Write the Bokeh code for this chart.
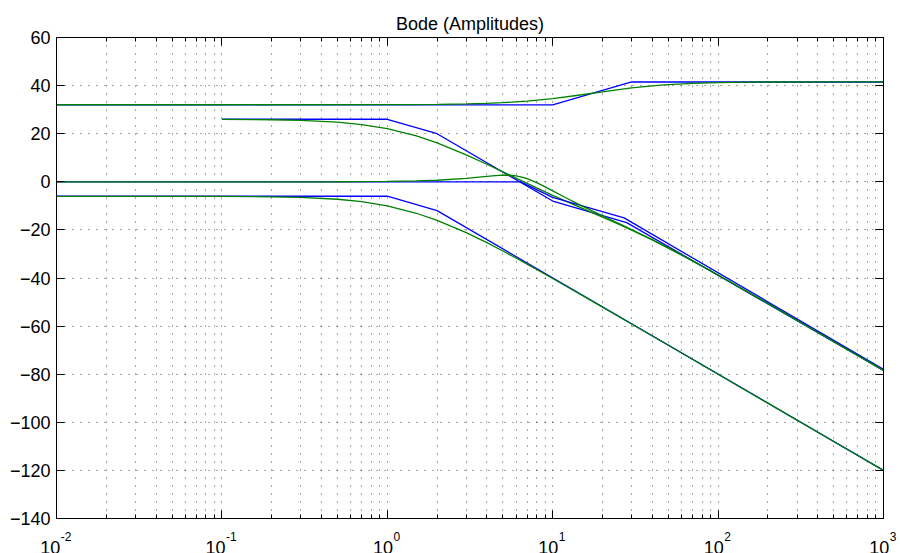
from bokeh.plotting import figure
from bokeh.layouts import column
from bokeh.models import (FixedTicker, LogAxis, LinearAxis, CustomJSTickFormatter,
                          Range1d)
from bokeh.core.properties import value
from bokeh.embed import file_html
from bokeh.resources import INLINE

# ---- tick values / labels ----
x_ticks = [0.01, 0.1, 1, 10, 100, 1000]
x_tick_base = ["10", "10", "10", "10", "10", "10"]
x_tick_exp = ["-2", "-1", "0", "1", "2", "3"]
x_minor = [m * d for d in [0.01, 0.1, 1, 10, 100] for m in range(2, 10)]
y_ticks = [-140, -120, -100, -80, -60, -40, -20, 0, 20, 40, 60]

# ---- curve A (gain 32 dB, zero 10, pole 30) ----
a_asym_w = [0.01, 10, 30, 1000]
a_asym_db = [32.0, 32.0, 41.5, 41.5]
a_w = [0.01, 0.1, 1, 2, 3, 4, 5, 7, 10, 15, 20, 30, 40, 50, 70, 100, 150, 200, 500, 1000]
a_db = [32.04, 32.04, 32.08, 32.19, 32.37, 32.61, 32.89, 33.54, 34.59, 36.19, 37.43,
        39.03, 39.90, 40.42, 40.94, 41.25, 41.43, 41.50, 41.57, 41.58]

# ---- curve B (26 dB from 0.1) ----
b_asym_w = [0.1, 1, 2, 10, 28, 1000]
b_asym_db = [26.0, 26.0, 20.0, -8.0, -17.0, -78.4]
b_w = [0.1, 0.2, 0.3, 0.5, 0.7, 1, 1.5, 2, 3, 4, 5, 6, 7, 8, 10, 12, 15, 20, 25, 30,
       40, 50, 70, 100, 200, 500, 1000]
b_db = [25.97, 25.81, 25.55, 24.80, 23.80, 22.08, 19.05, 16.17, 11.23, 7.30, 4.12, 1.51,
        -0.69, -2.56, -5.62, -8.04, -10.95, -14.66, -17.61, -20.08, -24.19, -27.55,
        -32.87, -38.75, -50.54, -66.39, -78.42]

# ---- curve C (0 dB, resonance near 6) ----
c_asym_w = [0.01, 6.4, 10, 27, 1000]
c_asym_db = [0.0, 0.0, -6.5, -15.0, -78.0]
c_w = [0.01, 0.1, 0.5, 1, 1.5, 2, 3, 4, 4.5, 5, 5.5, 6, 6.5, 7, 8, 9, 10, 12, 15, 20,
       25, 30, 40, 50, 70, 100, 200, 500, 1000]
c_db = [0.0, 0.0, 0.03, 0.17, 0.37, 0.65, 1.39, 2.22, 2.55, 2.74, 2.73, 2.48, 1.99, 1.32,
        -0.34, -2.10, -3.76, -6.63, -9.99, -14.11, -17.24, -19.83, -24.05, -27.46,
        -32.82, -38.73, -50.54, -66.39, -78.42]

# ---- curve D (-6 dB, poles 1 and 2) ----
d_asym_w = [0.01, 1, 2, 1000]
d_asym_db = [-6.0, -6.0, -12.0, -120.0]
d_w = [0.01, 0.05, 0.1, 0.2, 0.3, 0.5, 0.7, 1, 1.5, 2, 3, 4, 5, 6, 7, 8, 10, 12, 15,
       20, 30, 50, 100, 200, 500, 1000]
d_db = [-6.02, -6.03, -6.07, -6.23, -6.49, -7.25, -8.26, -10.00, -13.08, -16.02, -21.14,
        -25.31, -28.77, -31.70, -34.23, -36.45, -40.21, -43.31, -47.14, -52.09, -59.11,
        -67.97, -80.00, -92.04, -107.96, -120.00]

FONT = "Liberation Sans"
BLUE = "#0000ff"
GREEN = "#008000"
LABEL_PX = 18
EXP_PX = 12

W = 900
ML, MR, MT, MB = 56, 17, 37, 9
MAIN_H = 527
LAB_H = 553 - MAIN_H

p = figure(width=W, height=MAIN_H, x_axis_type="log",
           x_range=Range1d(0.01, 1000), y_range=Range1d(-140, 60),
           output_backend="svg", toolbar_location=None,
           title="Bode (Amplitudes)",
           min_border_left=ML, min_border_right=MR,
           min_border_top=MT, min_border_bottom=MB)
p.frame_align = False
p.background_fill_color = "white"
p.border_fill_color = "white"
p.outline_line_color = "black"
p.outline_line_width = 1

p.title.align = "center"
p.title.text_font = FONT
p.title.text_font_size = "18px"
p.title.text_font_style = "normal"
p.title.text_color = "black"
p.title.standoff = 7

xticker = FixedTicker(ticks=x_ticks, minor_ticks=x_minor)
yticker = FixedTicker(ticks=y_ticks, minor_ticks=[])
blank = CustomJSTickFormatter(code="return '';")

def style(ax, minor=True, labels=True):
    ax.axis_line_color = "black"
    ax.major_tick_line_color = "black"
    ax.major_tick_in = 8
    ax.major_tick_out = 0
    if minor:
        ax.minor_tick_line_color = "black"
        ax.minor_tick_in = 4
        ax.minor_tick_out = 0
    else:
        ax.minor_tick_line_color = None
    ax.major_label_text_font = FONT
    ax.major_label_text_color = "black"
    if labels:
        ax.major_label_text_font_size = f"{LABEL_PX}px"
    else:
        ax.formatter = blank
        ax.major_label_text_font_size = "2px"
        ax.major_label_standoff = 0

xa = p.xaxis[0]
xa.ticker = xticker
style(xa, True, False)

ya = p.yaxis[0]
ya.ticker = yticker
ya.major_label_standoff = 6
style(ya, False, True)

top = LogAxis(ticker=xticker)
style(top, True, False)
p.add_layout(top, "above")
right = LinearAxis(ticker=yticker)
style(right, False, False)
p.add_layout(right, "right")

p.xgrid.ticker = xticker
p.ygrid.ticker = yticker
for g in (p.xgrid[0], p.ygrid[0]):
    g.grid_line_color = "#222222"
    g.grid_line_dash = "1 7"
    g.grid_line_width = 1
    g.grid_line_alpha = 0.8
p.xgrid.minor_grid_line_color = "#222222"
p.xgrid.minor_grid_line_dash = "1 7"
p.xgrid.minor_grid_line_alpha = 0.8

LW = 1.3
for aw, adb, gw, gdb in [(a_asym_w, a_asym_db, a_w, a_db),
                         (b_asym_w, b_asym_db, b_w, b_db),
                         (c_asym_w, c_asym_db, c_w, c_db),
                         (d_asym_w, d_asym_db, d_w, d_db)]:
    p.line(aw, adb, line_color=BLUE, line_width=LW)
    p.line(gw, gdb, line_color=GREEN, line_width=LW)

# ---- strip under the plot holding the "10^n" tick labels ----
frame_w = W - ML - MR
px_per_dec = frame_w / 5.0
lo = 10 ** (-2 - ML / px_per_dec)
hi = 10 ** (3 + MR / px_per_dec)
q = figure(width=W, height=LAB_H, x_axis_type="log",
           x_range=Range1d(lo, hi), y_range=Range1d(0, LAB_H),
           output_backend="svg", toolbar_location=None,
           x_axis_location=None, y_axis_location=None,
           min_border_left=0, min_border_right=0,
           min_border_top=0, min_border_bottom=0)
q.frame_align = False
q.outline_line_color = None
q.background_fill_color = "white"
q.border_fill_color = "white"
q.xgrid.visible = False
q.ygrid.visible = False

base_w = 2 * 0.556 * LABEL_PX
base_off, exp_off = [], []
for e in x_tick_exp:
    exp_w = sum((0.333 if ch == "-" else 0.556) for ch in e) * EXP_PX
    left = -(base_w + exp_w) / 2.0 - 1.0
    base_off.append(left)
    exp_off.append(left + base_w + 0.5)

base_y = MAIN_H + LAB_H - 547   # baseline of "10" at canvas y = 547
exp_y = MAIN_H + LAB_H - 536    # baseline of exponent at canvas y = 536
q.text(x=x_ticks, y=base_y, text=x_tick_base, x_offset=base_off,
       text_align="left", text_baseline="alphabetic",
       text_font=value(FONT), text_font_size=f"{LABEL_PX}px", text_color="black")
q.text(x=x_ticks, y=exp_y, text=x_tick_exp, x_offset=exp_off,
       text_align="left", text_baseline="alphabetic",
       text_font=value(FONT), text_font_size=f"{EXP_PX}px", text_color="black")

layout = column(p, q, spacing=0)
open("out.html", "w").write(file_html(layout, INLINE))
